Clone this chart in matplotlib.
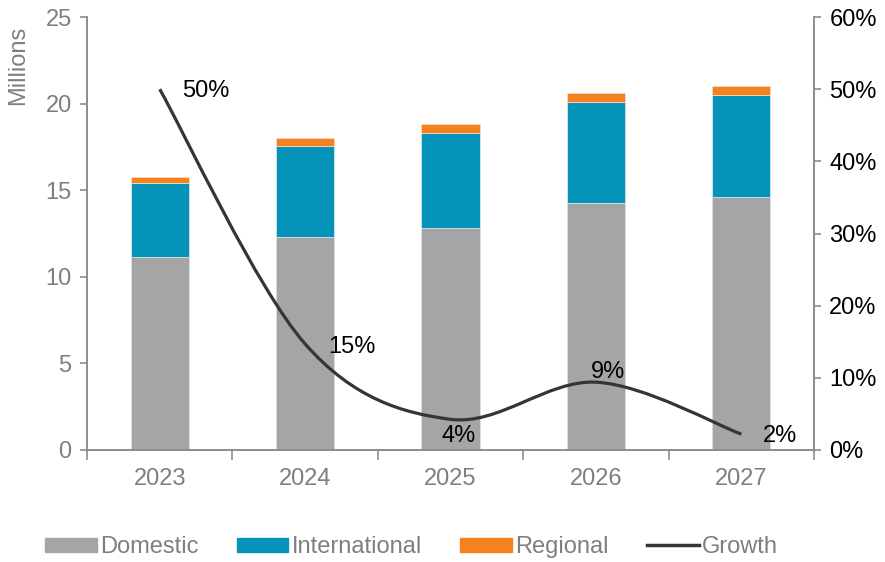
import matplotlib
matplotlib.use("Agg")
from matplotlib import pyplot as plt
from matplotlib.path import Path
from matplotlib.patches import PathPatch, Patch
from matplotlib.lines import Line2D
import numpy as np

plt.rcParams['font.family'] = ['Liberation Sans', 'DejaVu Sans']

years = ["2023", "2024", "2025", "2026", "2027"]
domestic = [11.13, 12.32, 12.80, 14.26, 14.59]
international = [4.27, 5.23, 5.52, 5.83, 5.91]
regional = [0.38, 0.46, 0.50, 0.50, 0.53]
growth = [50.0, 14.7, 4.25, 9.4, 2.2]

GRAY = "#A5A5A5"
BLUE = "#0593BA"
ORANGE = "#F58220"
LINE = "#383334"
AXIS = "#8C8C8C"
TXT = "#7F7F7F"
FS = 17

fig = plt.figure(figsize=(8.85, 5.62), dpi=100)
ax = fig.add_axes([87 / 885, 1 - 450 / 562, 727 / 885, 433 / 562])
ax2 = ax.twinx()

x = np.arange(len(years))
w = 0.4
dom = np.array(domestic)
intl = np.array(international)
ax.bar(x, dom, w, color=GRAY, edgecolor="#dcdcdc", linewidth=0.6, zorder=2)
ax.bar(x, intl, w, bottom=dom, color=BLUE, edgecolor="#cfe6ee", linewidth=0.6, zorder=2)
ax.bar(x, regional, w, bottom=dom + intl, color=ORANGE, edgecolor="#fbd9bd", linewidth=0.6, zorder=2)

# smoothed growth line (Catmull-Rom -> cubic bezier, like Excel's smoothed line)
pts = np.column_stack([x, growth]).astype(float)
ext = np.vstack([pts[0], pts, pts[-1]])
verts = [pts[0]]
codes = [Path.MOVETO]
for i in range(len(pts) - 1):
    p0, p1, p2, p3 = ext[i], ext[i + 1], ext[i + 2], ext[i + 3]
    c1 = p1 + (p2 - p0) / 6
    c2 = p2 - (p3 - p1) / 6
    verts += [c1, c2, p2]
    codes += [Path.CURVE4] * 3
ax2.add_patch(PathPatch(Path(verts, codes), facecolor="none", edgecolor=LINE,
                        linewidth=2.3, capstyle="butt", zorder=3))

# label offsets in pixels (dx, dy)
offsets = [(22, -2), (23, -3), (-9, -17), (-5, 10), (22, -2)]
for xi, g, (dx, dy) in zip(x, growth, offsets):
    ax2.annotate("{:.0f}%".format(g), xy=(xi, g), xytext=(dx, dy),
                 textcoords="offset pixels", ha="left", va="center",
                 fontsize=FS, color="black")

ax.set_xlim(-0.5, len(years) - 0.5)
ax.set_ylim(0, 25)
ax2.set_ylim(0, 60)
ax.set_yticks(range(0, 26, 5))
ax2.set_yticks(range(0, 61, 10))
ax2.set_yticklabels(["{}%".format(v) for v in range(0, 61, 10)])

ax.set_xticks(x)
ax.set_xticklabels(years)
ax.set_xticks(np.arange(-0.5, len(years), 1.0), minor=True)
ax.tick_params(axis="x", which="major", length=0, pad=13, labelsize=FS, labelcolor=TXT)
ax.tick_params(axis="x", which="minor", length=7, width=1.2, color=AXIS)
ax.tick_params(axis="y", length=5, width=1.2, color=AXIS, labelsize=FS, labelcolor=TXT, pad=6)
ax2.tick_params(axis="y", length=5, width=1.2, color=AXIS, labelsize=FS, labelcolor="black", pad=6)

for a in (ax, ax2):
    a.spines["top"].set_visible(False)
    for s in ("left", "right", "bottom"):
        a.spines[s].set_color(AXIS)
        a.spines[s].set_linewidth(1.2)

fig.text(18 / 885, 1 - 26 / 562, "Millions", rotation=90, ha="center", va="top",
         fontsize=FS, color=TXT)

handles = [Patch(color=GRAY), Patch(color=BLUE), Patch(color=ORANGE),
           Line2D([], [], color=LINE, linewidth=2.5)]
leg = fig.legend(handles, ["Domestic", "International", "Regional", "Growth"],
                 loc="center", bbox_to_anchor=(0.465, 1 - 547 / 562), ncol=4,
                 frameon=False, fontsize=FS, handlelength=2.2, handleheight=0.55,
                 handletextpad=0.15, columnspacing=1.6)
for t in leg.get_texts():
    t.set_color(TXT)

fig.savefig("out.png", dpi=100)
